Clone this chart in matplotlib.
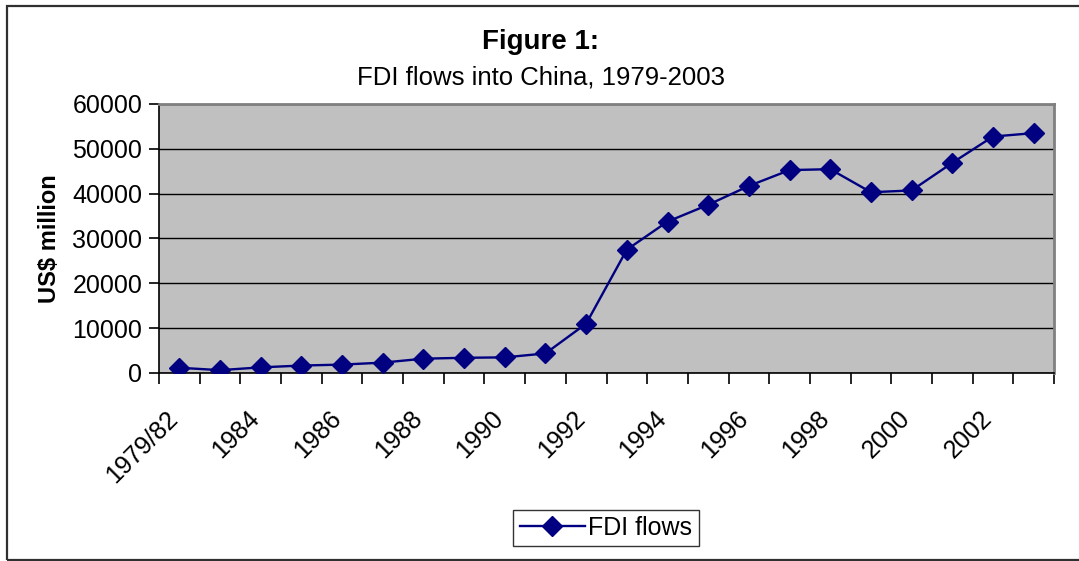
import matplotlib
matplotlib.use("Agg")
import matplotlib.pyplot as plt
from matplotlib.patches import Rectangle
import numpy as np

# FDI flows into China, US$ million
years = ["1979/82", "1983", "1984", "1985", "1986", "1987", "1988", "1989",
         "1990", "1991", "1992", "1993", "1994", "1995", "1996", "1997",
         "1998", "1999", "2000", "2001", "2002", "2003"]
fdi = [1170, 636, 1258, 1661, 1874, 2314, 3194, 3392, 3487, 4366, 11008,
       27515, 33767, 37521, 41726, 45257, 45463, 40319, 40715, 46878,
       52743, 53505]

plt.rcParams['font.family'] = ['Liberation Sans', 'DejaVu Sans']

W, H = 1079, 561
fig = plt.figure(figsize=(W / 100, H / 100), dpi=100)

# outer chart border (right side is cut off in the original)
fig.patches.append(Rectangle((6.5 / W, 1 / H), 1090 / W, 554 / H, transform=fig.transFigure,
                             fill=False, edgecolor='#303030', linewidth=1.6))

ax = fig.add_axes([159 / W, (H - 373) / H, 895 / W, 269 / H])
ax.set_facecolor('#C0C0C0')

x = np.arange(len(years))
ax.plot(x, fdi, color='#000080', linewidth=1.7, marker='D', markersize=10,
        label='FDI flows', zorder=3)

ax.set_xlim(-0.5, len(years) - 0.5)
ax.set_ylim(0, 60000)
ax.set_yticks(np.arange(0, 60001, 10000))
ax.yaxis.grid(True, color='black', linewidth=1)
ax.set_axisbelow(True)

# labels every second year; anchor moved left so the rotated text ends under the point
ax.set_xticks(x[::2] - 0.33)
ax.set_xticklabels(years[::2], rotation=45, ha='right', va='top',
                   rotation_mode='anchor', fontsize=18)
ax.set_xticks(np.arange(-0.5, len(years), 1), minor=True)
ax.tick_params(axis='x', which='major', length=0, pad=24)
ax.tick_params(axis='x', which='minor', length=8, width=1.2, direction='out')
ax.tick_params(axis='y', length=7, width=1.2, direction='out', labelsize=18, pad=5)

ax.spines['left'].set_color('black')
ax.spines['bottom'].set_color('black')
ax.spines['left'].set_linewidth(1.2)
ax.spines['bottom'].set_linewidth(1.2)
ax.spines['top'].set_color('#808080')
ax.spines['right'].set_color('#808080')
ax.spines['top'].set_linewidth(2)
ax.spines['right'].set_linewidth(2)

ax.set_ylabel('US$ million', fontsize=17, fontweight='bold', labelpad=8)

fig.text(541 / W, 1 - 42 / H, 'Figure 1:', ha='center', va='center',
         fontsize=20, fontweight='bold')
fig.text(541 / W, 1 - 78 / H, 'FDI flows into China, 1979-2003', ha='center',
         va='center', fontsize=18.5)

leg = fig.legend(loc='center', bbox_to_anchor=(606 / W, 1 - 528 / H), fontsize=18,
                 frameon=True, fancybox=False, edgecolor='black', handlelength=2.6,
                 borderpad=0.25, handletextpad=0.15, borderaxespad=0)
leg.get_frame().set_linewidth(1)

fig.savefig('out.png', dpi=100)
